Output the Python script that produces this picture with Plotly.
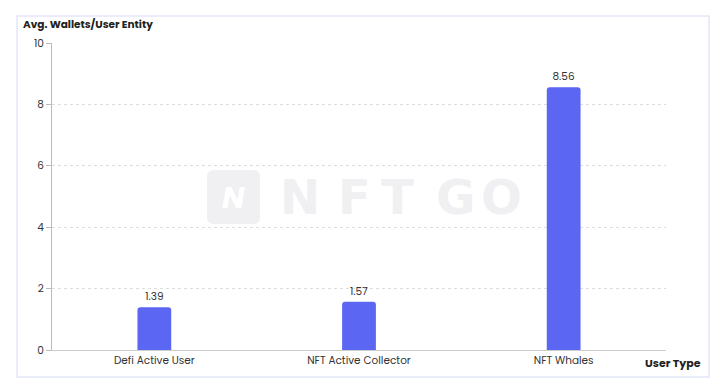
import plotly.graph_objects as go

categories = ["Defi Active User", "NFT Active Collector", "NFT Whales"]
values = [1.39, 1.57, 8.56]
y_ticks = [0, 2, 4, 6, 8, 10]

W, H = 722, 388
L, R, T, B = 52, 56, 43, 38
pw, ph = W - L - R, H - T - B

def px_x(x):
    return (x - L) / pw

def px_y(y):
    return (H - B - y) / ph

FONT = "Poppins, Inter, Roboto, sans-serif"
FS = 10.5

def rounded_rect_path(x0, y0, x1, y1, r):
    def P(x, y):
        return f"{px_x(x):.5f},{px_y(y):.5f}"
    return (f"M {P(x0 + r, y0)} L {P(x1 - r, y0)} Q {P(x1, y0)} {P(x1, y0 + r)} "
            f"L {P(x1, y1 - r)} Q {P(x1, y1)} {P(x1 - r, y1)} "
            f"L {P(x0 + r, y1)} Q {P(x0, y1)} {P(x0, y1 - r)} "
            f"L {P(x0, y0 + r)} Q {P(x0, y0)} {P(x0 + r, y0)} Z")

fig = go.Figure()
fig.add_trace(go.Bar(
    x=categories, y=values,
    marker=dict(color="#5B66F2", cornerradius=3, line=dict(width=0)),
    width=0.165,
    text=[f"{v:.2f}" for v in values],
    textposition="outside",
    textfont=dict(size=FS, color="#333333", family=FONT),
    cliponaxis=False,
))

WM = "#F0F0F2"
shapes = [
    dict(type="rect", xref="paper", yref="paper",
         x0=px_x(17), x1=px_x(709), y0=px_y(377), y1=px_y(16),
         line=dict(color="#E4E6FA", width=1.5), fillcolor="rgba(0,0,0,0)", layer="below"),
    dict(type="path", xref="paper", yref="paper",
         path=rounded_rect_path(207, 170, 260, 224, 7),
         line=dict(width=0), fillcolor=WM, layer="below"),
]

annotations = [
    dict(text="<b>Avg. Wallets/User Entity</b>", xref="paper", yref="paper",
         x=px_x(21), y=px_y(25), xanchor="left", yanchor="middle", showarrow=False,
         font=dict(size=FS, color="#222222", family=FONT)),
    dict(text="<b>User Type</b>", xref="paper", yref="paper",
         x=px_x(703), y=px_y(363), xanchor="right", yanchor="middle", showarrow=False,
         font=dict(size=FS + 0.5, color="#222222", family=FONT)),
    dict(text="<b><i>N</i></b>", xref="paper", yref="paper",
         x=px_x(233), y=px_y(197), xanchor="center", yanchor="middle", showarrow=False,
         font=dict(size=30, color="#FFFFFF", family=FONT)),
]

for letter, cx in zip(["N", "F", "T", "G", "O"], [300, 354, 397, 455, 501]):
    annotations.append(dict(
        text=f"<b>{letter}</b>", xref="paper", yref="paper",
        x=px_x(cx), y=px_y(197), xanchor="center", yanchor="middle", showarrow=False,
        font=dict(size=48, color=WM, family="DejaVu Sans, sans-serif")))

fig.update_layout(
    width=W, height=H,
    margin=dict(l=L, r=R, t=T, b=B),
    paper_bgcolor="white", plot_bgcolor="white",
    showlegend=False,
    shapes=shapes, annotations=annotations,
    font=dict(family=FONT, size=FS, color="#333333"),
    bargap=0.5,
)
fig.update_xaxes(
    showgrid=False, showline=True, linecolor="#CCCCCC", linewidth=1,
    ticks="", tickfont=dict(size=FS, color="#333333"),
)
fig.update_yaxes(
    range=[0, 10], tickvals=y_ticks, showgrid=True, gridcolor="#DDDDDD",
    griddash="dot", gridwidth=1, showline=True, linecolor="#BBBBBB", linewidth=1,
    ticks="outside", ticklen=5, tickcolor="#BBBBBB", zeroline=False,
    tickfont=dict(size=FS, color="#333333"),
)

fig.write_html("out.html")
